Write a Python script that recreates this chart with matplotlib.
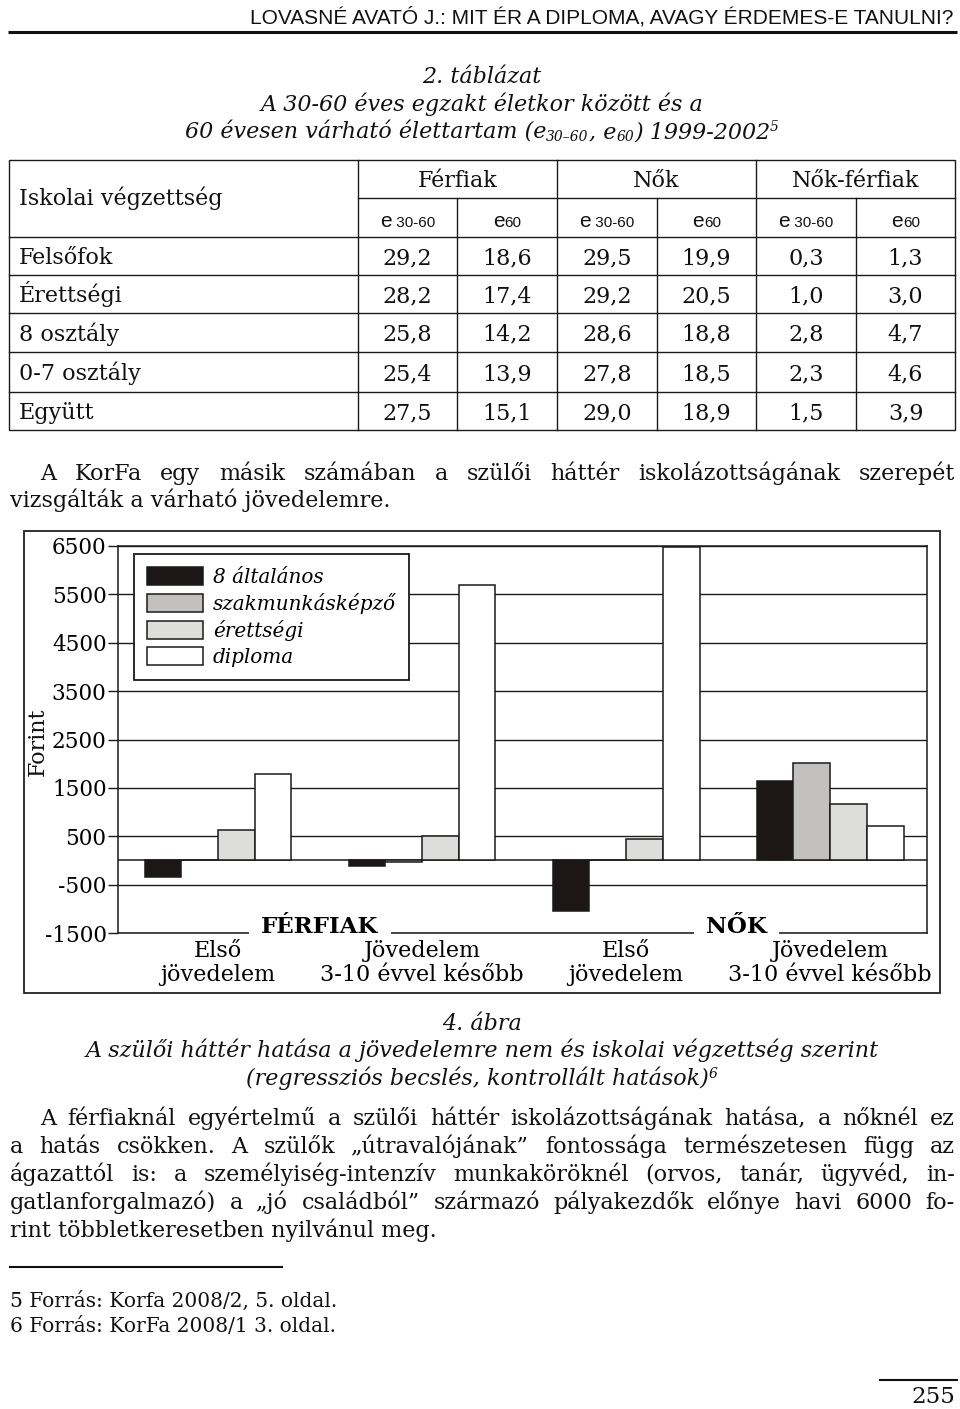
import numpy as np
import matplotlib
matplotlib.use('Agg')
import matplotlib.pyplot as plt
from matplotlib.patches import Rectangle

# ---- table data (2. táblázat) ----
table_rows = ["Felsőfok", "Érettségi", "8 osztály", "0-7 osztály", "Együtt"]
group_heads = ["Férfiak", "Nők", "Nők-férfiak"]
ferfi_e3060 = [29.2, 28.2, 25.8, 25.4, 27.5]
ferfi_e60 = [18.6, 17.4, 14.2, 13.9, 15.1]
no_e3060 = [29.5, 29.2, 28.6, 27.8, 29.0]
no_e60 = [19.9, 20.5, 18.8, 18.5, 18.9]
diff_e3060 = [0.3, 1.0, 2.8, 2.3, 1.5]
diff_e60 = [1.3, 3.0, 4.7, 4.6, 3.9]

# ---- chart data (4. ábra) ----
groups = ["Első\njövedelem", "Jövedelem\n3-10 évvel később",
          "Első\njövedelem", "Jövedelem\n3-10 évvel később"]
sex_labels = ["FÉRFIAK", "NŐK"]
series_names = ["8 általános", "szakmunkásképző", "érettségi", "diploma"]
alt8 = [-350, -120, -1040, 1640]
szakm = [0, -40, 0, 2020]
erett = [620, 500, 450, 1170]
diploma = [1780, 5700, 6480, 720]
yticks = [-1500, -500, 500, 1500, 2500, 3500, 4500, 5500, 6500]
ytick_labels = ["-1500", "-500", "500", "1500", "2500", "3500", "4500", "5500", "6500"]

SERIF = 'DejaVu Serif'
INK = '#1a1a1a'

fig = plt.figure(figsize=(9.6, 14.09), dpi=100)
fig.patch.set_facecolor('white')

# page layer in pixel coordinates
page = fig.add_axes([0, 0, 1, 1])
page.set_xlim(0, 960)
page.set_ylim(1409, 0)
page.axis('off')
renderer = fig.canvas.get_renderer()


def measure(s, **kw):
    t = page.text(0, 0, s, **kw)
    w = t.get_window_extent(renderer).width
    t.remove()
    return w


def runs_text(x, y, runs, ha='center'):
    """draw text pieces (string, dy, props) side by side"""
    widths = [measure(s, **kw) for s, dy, kw in runs]
    x0 = x - sum(widths) / 2 if ha == 'center' else x
    for (s, dy, kw), wd in zip(runs, widths):
        page.text(x0, y + dy, s, ha='left', va='baseline', **kw)
        x0 += wd


def justify(line, y, x0, x1, **kw):
    words = line.split()
    ws = [measure(w, **kw) for w in words]
    gap = (x1 - x0 - sum(ws)) / (len(words) - 1)
    x = x0
    for w, wd in zip(words, ws):
        page.text(x, y, w, ha='left', va='baseline', **kw)
        x += wd + gap


body = dict(family=SERIF, fontsize=16, color='#111111')
ital = dict(family=SERIF, style='italic', fontsize=16, color='#111111')
ital_small = dict(family=SERIF, style='italic', fontsize=10, color='#111111')

# ---- running head ----
page.text(953, 23, "LOVASNÉ AVATÓ J.: MIT ÉR A DIPLOMA, AVAGY ÉRDEMES-E TANULNI?",
          ha='right', va='baseline', family='Liberation Sans', fontsize=15, color='#111111')
page.plot([8, 957], [32, 32], color='#111111', lw=2.2, solid_capstyle='butt')

# ---- table title ----
page.text(482, 83, "2. táblázat", ha='center', va='baseline', **ital)
page.text(482, 111, "A 30-60 éves egzakt életkor között és a", ha='center', va='baseline', **ital)
runs_text(482, 138, [("60 évesen várható élettartam (e", 0, ital),
                     ("30–60", 3, ital_small), (", e", 0, ital), ("60", 3, ital_small),
                     (") 1999-2002", 0, ital), ("5", -7, ital_small)])

# ---- table ----
col_x = [9, 358, 457, 557, 657, 756, 856, 955]
row_y = [160, 198, 237, 275, 313, 352, 392, 430]
lw_t = 1.0
page.add_patch(Rectangle((col_x[0], row_y[0]), col_x[-1] - col_x[0], row_y[-1] - row_y[0],
                         fill=False, ec=INK, lw=lw_t))
page.plot([col_x[1], col_x[-1]], [row_y[1]] * 2, color=INK, lw=lw_t)
for yy in row_y[2:-1]:
    page.plot([col_x[0], col_x[-1]], [yy, yy], color=INK, lw=lw_t)
for i, xx in enumerate(col_x[1:-1]):
    top = row_y[0] if i % 2 == 0 else row_y[1]
    page.plot([xx, xx], [top, row_y[-1]], color=INK, lw=lw_t)

page.text(19, 205, "Iskolai végzettség", ha='left', va='baseline', **body)
for g, head in enumerate(group_heads):
    xc = (col_x[1 + 2 * g] + col_x[3 + 2 * g]) / 2
    page.text(xc, 187, head, ha='center', va='baseline', **body)

sans_big = dict(family='Liberation Sans', fontsize=15, color='#111111')
sans_small = dict(family='Liberation Sans', fontsize=11, color='#111111')
for c in range(6):
    xc = (col_x[1 + c] + col_x[2 + c]) / 2
    if c % 2 == 0:
        runs_text(xc, 227, [("e", 0, sans_big), ("\u00a030-60", 0, sans_small)])
    else:
        runs_text(xc, 227, [("e", 0, sans_big), ("60", 0, sans_small)])

columns = [ferfi_e3060, ferfi_e60, no_e3060, no_e60, diff_e3060, diff_e60]
for r, name in enumerate(table_rows):
    yb = (row_y[2 + r] + row_y[3 + r]) / 2 + 8
    page.text(19, yb, name, ha='left', va='baseline', **body)
    for c, col in enumerate(columns):
        xc = (col_x[1 + c] + col_x[2 + c]) / 2
        page.text(xc, yb, f"{col[r]:.1f}".replace('.', ','), ha='center', va='baseline', **body)

# ---- paragraph 1 ----
justify("A KorFa egy másik számában a szülői háttér iskolázottságának szerepét",
        480, 40, 955, **body)
page.text(10, 507, "vizsgálták a várható jövedelemre.", ha='left', va='baseline', **body)

# ---- chart ----
page.add_patch(Rectangle((24, 531), 916, 462, fill=False, ec='#222222', lw=1.3))
page.text(38, 742, "Forint", rotation=90, ha='center', va='center', **body)

ax = fig.add_axes([118 / 960, 1 - 933 / 1409, 809 / 960, 387 / 1409])
x = np.arange(len(groups))
w = 0.18
offsets = np.array([-1.5, -0.5, 0.5, 1.5]) * w
colors = ['#1c1616', '#c3c1bf', '#dddddb', '#ffffff']
for vals, off, col, name in zip([alt8, szakm, erett, diploma], offsets, colors, series_names):
    ax.bar(x + off, vals, w, color=col, edgecolor=INK, linewidth=1.1, label=name, zorder=3)

ax.axhline(0, color=INK, lw=1.1, zorder=2)
ax.set_ylim(-1500, 6500)
ax.set_xlim(-0.49, 3.475)
ax.set_yticks(yticks)
ax.set_yticklabels(ytick_labels, family=SERIF, fontsize=15.5)
ax.yaxis.grid(True, color=INK, lw=1.0)
ax.set_axisbelow(True)
ax.set_xticks(x)
ax.set_xticklabels(groups, family=SERIF, fontsize=16, linespacing=1.1)
ax.tick_params(axis='y', direction='out', length=7.2, width=1.0, pad=1, color=INK)
ax.tick_params(axis='x', length=0, pad=5)
for sp in ax.spines.values():
    sp.set_color(INK)
    sp.set_linewidth(1.1)

# section labels breaking the bottom line
for xpos, lab in zip([0.5, 2.54], sex_labels):
    t = ax.text(xpos, -1500, lab, ha='center', va='baseline', family=SERIF,
                fontsize=16.5, fontweight='bold', zorder=6, clip_on=False)
    bb = t.get_window_extent(renderer)
    inv = ax.transData.inverted()
    xa = inv.transform((bb.x0 - 12, 0))[0]
    xb = inv.transform((bb.x1 + 12, 0))[0]
    ax.hlines(-1500, xa, xb, color='white', lw=4, zorder=5, clip_on=False)

leg = ax.legend(loc='upper left', bbox_to_anchor=(134 / 960, 1 - 554 / 1409),
                bbox_transform=fig.transFigure, frameon=True, fancybox=False,
                edgecolor=INK, framealpha=1,
                prop=dict(family=SERIF, style='italic', size=14.4),
                handlelength=2.8, handleheight=1.0, handletextpad=0.5,
                labelspacing=0.3, borderpad=0.65, borderaxespad=0)
leg.get_frame().set_linewidth(1.3)

# ---- caption ----
page.text(482, 1030, "4. ábra", ha='center', va='baseline', **ital)
page.text(482, 1057, "A szülői háttér hatása a jövedelemre nem és iskolai végzettség szerint",
          ha='center', va='baseline', **ital)
runs_text(482, 1085, [("(regressziós becslés, kontrollált hatások)", 0, ital),
                      ("6", -7, ital_small)])

# ---- paragraph 2 ----
para2 = ["A férfiaknál egyértelmű a szülői háttér iskolázottságának hatása, a nőknél ez",
         "a hatás csökken. A szülők „útravalójának” fontossága természetesen függ az",
         "ágazattól is: a személyiség-intenzív munkaköröknél (orvos, tanár, ügyvéd, in-",
         "gatlanforgalmazó) a „jó családból” származó pályakezdők előnye havi 6000 fo-"]
for i, line in enumerate(para2):
    justify(line, 1125 + 28 * i, 40 if i == 0 else 10, 955, **body)
page.text(10, 1237, "rint többletkeresetben nyilvánul meg.", ha='left', va='baseline', **body)

# ---- footnotes ----
page.plot([10, 282], [1267, 1267], color='#111111', lw=1.5)
foot = dict(family=SERIF, fontsize=14.5, color='#111111')
page.text(10, 1307, "5 Forrás: Korfa 2008/2, 5. oldal.", ha='left', va='baseline', **foot)
page.text(10, 1332, "6 Forrás: KorFa 2008/1 3. oldal.", ha='left', va='baseline', **foot)

# ---- page number ----
page.plot([880, 957], [1380, 1380], color='#111111', lw=1.5)
page.text(955, 1403, "255", ha='right', va='baseline', family=SERIF, fontsize=16.5,
          color='#111111')

fig.savefig('out.png', dpi=100, facecolor='white')
